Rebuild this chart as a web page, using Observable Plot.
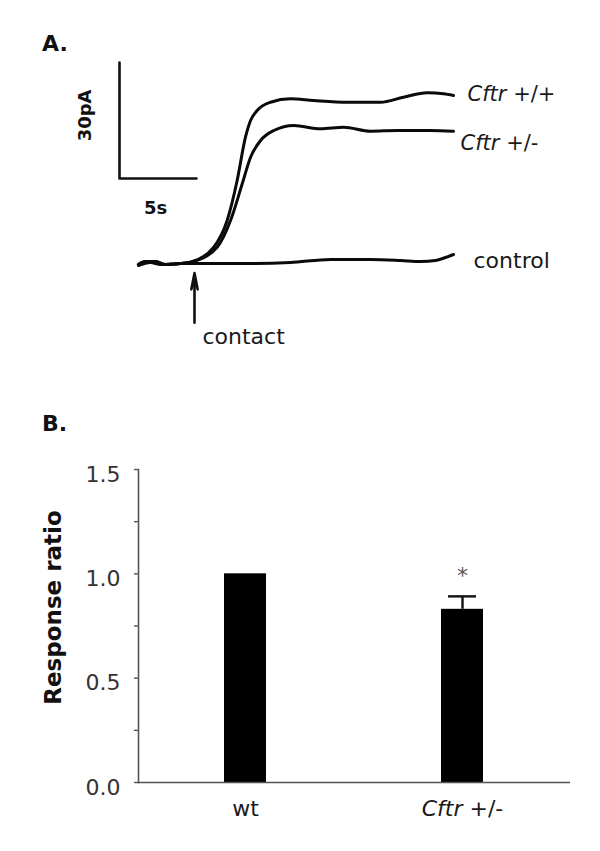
<!DOCTYPE html>
<html>
<head>
<meta charset="utf-8">
<script src="https://cdn.jsdelivr.net/npm/d3@7"></script>
<script src="https://cdn.jsdelivr.net/npm/@observablehq/plot@0.6"></script>
<style>
  body { margin: 0; background: #fff; }
  #wrap { position: relative; width: 600px; height: 851px; font-family: "DejaVu Sans", sans-serif; }
  .plabel { position: absolute; left: 42px; font: bold 22px/22px "DejaVu Sans", sans-serif; color: #111; }
  #wrap svg { display: block; }
</style>
</head>
<body>
<div id="wrap">
  <div id="pa"></div>
  <div id="pb"></div>
  <div class="plabel" style="top:33px">A.</div>
  <div class="plabel" style="top:413px">B.</div>
</div>
<script>
// ---------- Panel A: whole-cell current traces (time in s, current in pA) ----------
const wtTime = [1.23, 1.69, 2.34, 2.99, 3.96, 4.61, 6.12, 6.99, 7.64, 8.18, 8.51, 8.94, 9.81, 11.10, 12.60, 14.79, 16.95, 18.44, 19.98, 21.04, 21.69];
const wtCurrent = [-0.26, 0.52, 0.52, -0.26, 0, 0.34, 4.22, 11.12, 21.46, 32.66, 36.98, 39.57, 41.71, 42.59, 42.15, 41.71, 41.71, 43.0, 44.14, 43.88, 43.44];

const hetTime = [1.23, 1.69, 2.34, 2.99, 3.96, 4.61, 6.34, 7.21, 7.97, 8.51, 9.16, 10.02, 11.32, 13.05, 14.56, 16.30, 18.03, 20.19, 21.69];
const hetCurrent = [-0.26, 0.52, 0.52, -0.26, 0, 0.34, 4.22, 11.12, 20.61, 27.49, 31.81, 34.39, 35.69, 34.83, 35.25, 34.21, 34.39, 34.39, 34.21];

const ctrlTime = [1.23, 2.01, 2.66, 3.96, 5.26, 8.51, 11.10, 13.70, 16.30, 18.25, 19.55, 20.52, 21.17, 21.69];
const ctrlCurrent = [-0.52, 0.26, -0.26, 0, 0, 0, 0.26, 1.03, 1.03, 0.78, 0.52, 0.78, 1.55, 2.33];

const traceNames = ["Cftr +/+", "Cftr +/-", "control"];

// scale bar (5 s, 30 pA) and contact time
const scaleBarTime = 5;        // s
const scaleBarCurrent = 30;    // pA
const scaleBarOrigin = [0, 22]; // [s, pA]
const contactTime = 4.87;      // s
const contactArrowCurrent = [-15.3, -2.5]; // pA, arrow tail -> tip

// ---------- Panel B: response ratio ----------
const genotypes = ["wt", "Cftr +/-"];
const responseRatio = [1.0, 0.83];
const responseSEM = [0, 0.062];
const significant = [false, true];
const yTicks = [0, 0.5, 1.0, 1.5];
const yMinorTicks = [0.25, 0.75, 1.25];

// ---------- build tables ----------
const toPts = (ts, cs, name) => ts.map((t, i) => ({t, c: cs[i], name}));
const traces = [
  toPts(wtTime, wtCurrent, traceNames[0]),
  toPts(hetTime, hetCurrent, traceNames[1]),
  toPts(ctrlTime, ctrlCurrent, traceNames[2])
];
const allPts = traces.flat();
const ends = traces.map(tr => tr[tr.length - 1]);

const [t0, c0] = scaleBarOrigin;
const scaleBar = [
  {t: t0, c: c0 + scaleBarCurrent},
  {t: t0, c: c0},
  {t: t0 + scaleBarTime, c: c0}
];

const labelOffsets = [[14, -1], [7, 12], [20, 6]];

const plotA = Plot.plot({
  width: 600, height: 390, margin: 0,
  style: {fontFamily: "DejaVu Sans, sans-serif", fontSize: "22px", color: "#111", background: "white"},
  x: {domain: [0, scaleBarTime], range: [119, 196], axis: null},
  y: {domain: [0, scaleBarCurrent], range: [263, 147], axis: null},
  marks: [
    Plot.line(scaleBar, {x: "t", y: "c", stroke: "#111", strokeWidth: 2.6, curve: "linear"}),
    Plot.text([{t: t0, c: c0 + scaleBarCurrent / 2}], {x: "t", y: "c", text: () => `${scaleBarCurrent}pA`, rotate: -90, dx: -34, dy: -5, fontWeight: "bold", fontSize: 18, fill: "#111"}),
    Plot.text([{t: t0 + scaleBarTime / 2, c: c0}], {x: "t", y: "c", text: () => `${scaleBarTime}s`, dx: -2.5, dy: 29.5, fontWeight: "bold", fontSize: 18, fill: "#111"}),
    Plot.line(allPts, {x: "t", y: "c", z: "name", stroke: "#0a0a0a", strokeWidth: 3, curve: "monotone-x"}),
    ...ends.map((e, i) => Plot.text([e], {x: "t", y: "c", text: "name", textAnchor: "start", dx: labelOffsets[i][0], dy: labelOffsets[i][1], fontSize: i < 2 ? 21 : 22, fill: "#1a1a1a"})),
    Plot.arrow([{t: contactTime, c1: contactArrowCurrent[0], c2: contactArrowCurrent[1]}], {x1: "t", x2: "t", y1: "c1", y2: "c2", stroke: "#111", strokeWidth: 2.6, headLength: 12, headAngle: 22}),
    Plot.text([{t: contactTime, c: contactArrowCurrent[0]}], {x: "t", y: "c", text: () => "contact", textAnchor: "start", dx: 8, dy: 14, fontSize: 22, fill: "#1a1a1a"})
  ]
});

const bars = genotypes.map((g, i) => ({genotype: g, ratio: responseRatio[i], sem: responseSEM[i], sig: significant[i]}));
const errBars = bars.filter(d => d.sem > 0);

const plotB = Plot.plot({
  width: 600, height: 461,
  marginTop: 79, marginBottom: 69, marginLeft: 138, marginRight: 30,
  style: {fontFamily: "DejaVu Sans, sans-serif", fontSize: "22px", color: "#333", background: "white"},
  x: {domain: genotypes, paddingInner: 0.806, paddingOuter: 0.398, label: null, axis: null},
  y: {domain: [0, 1.5], label: null, axis: null},
  marks: [
    Plot.barY(bars, {x: "genotype", y: "ratio", fill: "#000"}),
    Plot.ruleX(errBars, {x: "genotype", y1: "ratio", y2: d => d.ratio + d.sem, stroke: "#111", strokeWidth: 2.4}),
    Plot.tickY(errBars, {x: "genotype", y: d => d.ratio + d.sem, stroke: "#111", strokeWidth: 2.4, insetLeft: 7, insetRight: 7}),
    Plot.text(bars.filter(d => d.sig), {x: "genotype", y: d => d.ratio + d.sem, text: () => "*", dy: -20, fontSize: 22, fill: "#555"}),
    Plot.frame({anchor: "left", stroke: "#555", strokeWidth: 1.6}),
    Plot.ruleY([0], {stroke: "#555", strokeWidth: 1.6}),
    Plot.axisY({ticks: [...yTicks, ...yMinorTicks], tickSize: 4, tickFormat: () => "", stroke: "#555", strokeWidth: 1.4, label: null}),
    Plot.axisY({ticks: yTicks, tickSize: 0, tickPadding: 18, tickFormat: d3.format(".1f"), fontSize: 22, fill: "#333", dy: 5, label: null}),
    Plot.axisX({tickSize: 0, tickPadding: 18, fontSize: 22, fill: "#1a1a1a", label: null}),
    Plot.text(["Response ratio"], {frameAnchor: "left", textAnchor: "middle", text: d => d, rotate: -90, dx: -85, dy: -18.5, fontWeight: "bold", fontSize: 23, fill: "#111"})
  ]
});

// italicise the gene symbol "Cftr" in every label
function italicizeGene(svg) {
  svg.querySelectorAll("text").forEach(t => {
    if (t.children.length === 0 && t.textContent.startsWith("Cftr")) {
      const rest = t.textContent.slice(4);
      t.textContent = "";
      const a = document.createElementNS("http://www.w3.org/2000/svg", "tspan");
      a.setAttribute("font-style", "italic");
      a.textContent = "Cftr";
      const b = document.createElementNS("http://www.w3.org/2000/svg", "tspan");
      b.textContent = rest.replace(/^ /, "\u00a0");
      t.append(a, b);
    }
  });
}
italicizeGene(plotA);
italicizeGene(plotB);

document.getElementById("pa").append(plotA);
document.getElementById("pb").append(plotB);
</script>
</body>
</html>
